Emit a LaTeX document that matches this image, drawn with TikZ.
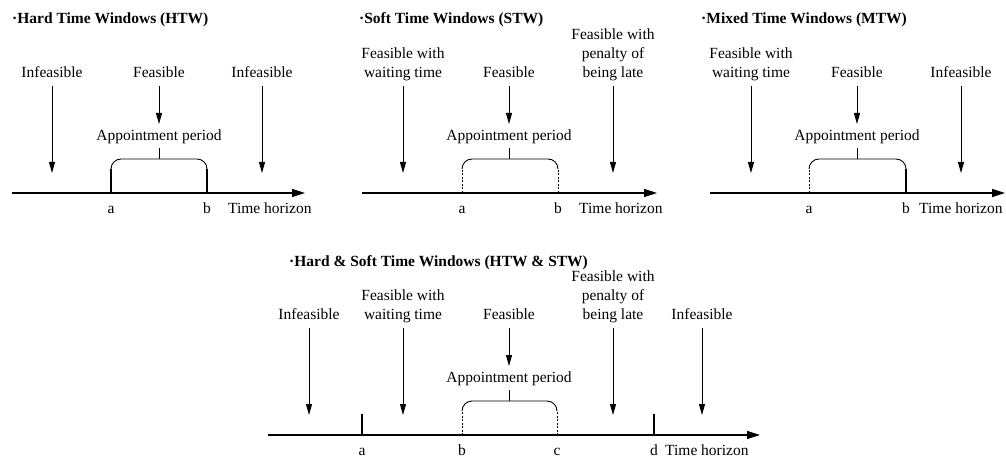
\documentclass[tikz,border=0pt]{standalone}
\usepackage{fontspec}
\setmainfont{Liberation Serif}
\usetikzlibrary{arrows.meta,positioning}

\begin{document}
\begin{tikzpicture}[x=1pt,y=-1pt,
    lbl/.style={anchor=south,align=center,inner sep=0pt,text depth=4pt,font=\fontsize{15.5}{19}\selectfont},
    ttl/.style={anchor=base west,inner sep=0pt,font=\fontsize{15.5}{19}\selectfont\bfseries},
    tck/.style={anchor=base,inner sep=0pt,font=\fontsize{15.5}{19}\selectfont},
    arr/.style={-{Triangle[length=11pt,width=6pt]},line width=0.9pt,shorten <=4pt},
    axis/.style={-{Triangle[length=13pt,width=8pt]},line width=1.2pt},
    soft/.style={line width=0.9pt,dash pattern=on 2pt off 1.5pt},
    hard/.style={line width=1.2pt},
    brace/.style={line width=0.9pt,rounded corners=10pt}]
  \useasboundingbox (0,0) rectangle (1006,457);

  % hard time windows
  \begin{scope}
    \node[ttl] (t1) at (12,24) {·Hard Time Windows (HTW)};
    \node[lbl] (l1) at (52,82) {Infeasible};
    \node[lbl] (f1) at (159,82) {Feasible};
    \node[lbl] (r1) at (262,82) {Infeasible};
    \node[lbl] (ap1) at (159,145) {Appointment period};
    \coordinate (l1e) at (52,173);
    \coordinate (f1e) at (159,124);
    \coordinate (r1e) at (262,173);
    \coordinate (m1) at (159,159);
    \coordinate (s1) at (12,193);
    \coordinate (e1) at (305,193);
    \draw[axis] (s1) -- (e1);
    \draw[arr] (l1.south) -- (l1e);
    \draw[arr] (f1.south) -- (f1e);
    \draw[arr] (r1.south) -- (r1e);
    \draw[brace] (111,169) |- (207,159) -- (207,169);
    \draw[hard] (111,193) -- (111,169);
    \draw[hard] (207,193) -- (207,169);
    \draw[line width=0.9pt,shorten >=3pt] (m1) -- (ap1.south);
    \node[tck] (a1) at (111,214) {a};
    \node[tck] (b1) at (207,214) {b};
    \node[tck,anchor=base west] (h1) at (228,214) {Time horizon};
  \end{scope}

  % soft time windows
  \begin{scope}[shift={(351,0)}]
    \node[ttl] (t2) at (8,24) {·Soft Time Windows (STW)};
    \node[lbl] (l2) at (52,82) {Feasible with\\waiting time};
    \node[lbl] (f2) at (158,82) {Feasible};
    \node[lbl] (r2) at (262,82) {Feasible with\\penalty of\\being late};
    \node[lbl] (ap2) at (158,145) {Appointment period};
    \coordinate (l2e) at (52,173);
    \coordinate (f2e) at (158,124);
    \coordinate (r2e) at (262,173);
    \coordinate (m2) at (158,159);
    \coordinate (s2) at (11,193);
    \coordinate (e2) at (306,193);
    \draw[axis] (s2) -- (e2);
    \draw[arr] (l2.south) -- (l2e);
    \draw[arr] (f2.south) -- (f2e);
    \draw[arr] (r2.south) -- (r2e);
    \draw[brace] (111,169) |- (207,159) -- (207,169);
    \draw[soft] (111,193) -- (111,169);
    \draw[soft] (207,193) -- (207,169);
    \draw[line width=0.9pt,shorten >=3pt] (m2) -- (ap2.south);
    \node[tck] (a2) at (111,214) {a};
    \node[tck] (b2) at (207,214) {b};
    \node[tck,anchor=base west] (h2) at (228,214) {Time horizon};
  \end{scope}

  % mixed time windows
  \begin{scope}[shift={(698,0)}]
    \node[ttl] (t3) at (3,24) {·Mixed Time Windows (MTW)};
    \node[lbl] (l3) at (53,82) {Feasible with\\waiting time};
    \node[lbl] (f3) at (159,82) {Feasible};
    \node[lbl] (r3) at (263,82) {Infeasible};
    \node[lbl] (ap3) at (159,145) {Appointment period};
    \coordinate (l3e) at (53,173);
    \coordinate (f3e) at (159,124);
    \coordinate (r3e) at (263,173);
    \coordinate (m3) at (159,159);
    \coordinate (s3) at (12,193);
    \coordinate (e3) at (307,193);
    \draw[axis] (s3) -- (e3);
    \draw[arr] (l3.south) -- (l3e);
    \draw[arr] (f3.south) -- (f3e);
    \draw[arr] (r3.south) -- (r3e);
    \draw[brace] (111,169) |- (208,159) -- (208,169);
    \draw[soft] (111,193) -- (111,169);
    \draw[hard] (208,193) -- (208,169);
    \draw[line width=0.9pt,shorten >=3pt] (m3) -- (ap3.south);
    \node[tck] (a3) at (111,214) {a};
    \node[tck] (b3) at (208,214) {b};
    \node[tck,anchor=base west] (h3) at (221,214) {Time horizon};
  \end{scope}

  % hard & soft time windows
  \begin{scope}[shift={(0,242)}]
    \node[ttl] (t4) at (289,24) {·Hard \& Soft Time Windows (HTW \& STW)};
    \node[lbl] (l4) at (309,82) {Infeasible};
    \node[lbl] (w4) at (403,82) {Feasible with\\waiting time};
    \node[lbl] (f4) at (509,82) {Feasible};
    \node[lbl] (p4) at (613,82) {Feasible with\\penalty of\\being late};
    \node[lbl] (r4) at (702,82) {Infeasible};
    \node[lbl] (ap4) at (509,145) {Appointment period};
    \coordinate (l4e) at (309,173);
    \coordinate (w4e) at (403,173);
    \coordinate (f4e) at (509,124);
    \coordinate (p4e) at (613,173);
    \coordinate (r4e) at (702,173);
    \coordinate (m4) at (509,159);
    \coordinate (s4) at (268,193);
    \coordinate (e4) at (760,193);
    \draw[axis] (s4) -- (e4);
    \draw[arr] (l4.south) -- (l4e);
    \draw[arr] (w4.south) -- (w4e);
    \draw[arr] (f4.south) -- (f4e);
    \draw[arr] (p4.south) -- (p4e);
    \draw[arr] (r4.south) -- (r4e);
    \draw[hard] (362,193) -- (362,172);
    \draw[hard] (654,193) -- (654,172);
    \draw[brace] (462,169) |- (557,159) -- (557,169);
    \draw[soft] (462,193) -- (462,169);
    \draw[soft] (557,193) -- (557,169);
    \draw[line width=0.9pt,shorten >=3pt] (m4) -- (ap4.south);
    \node[tck] (a4) at (362,213) {a};
    \node[tck] (b4) at (462,213) {b};
    \node[tck] (c4) at (557,213) {c};
    \node[tck] (d4) at (654,213) {d};
    \node[tck,anchor=base west] (h4) at (665,213) {Time horizon};
  \end{scope}
\end{tikzpicture}
\end{document}
